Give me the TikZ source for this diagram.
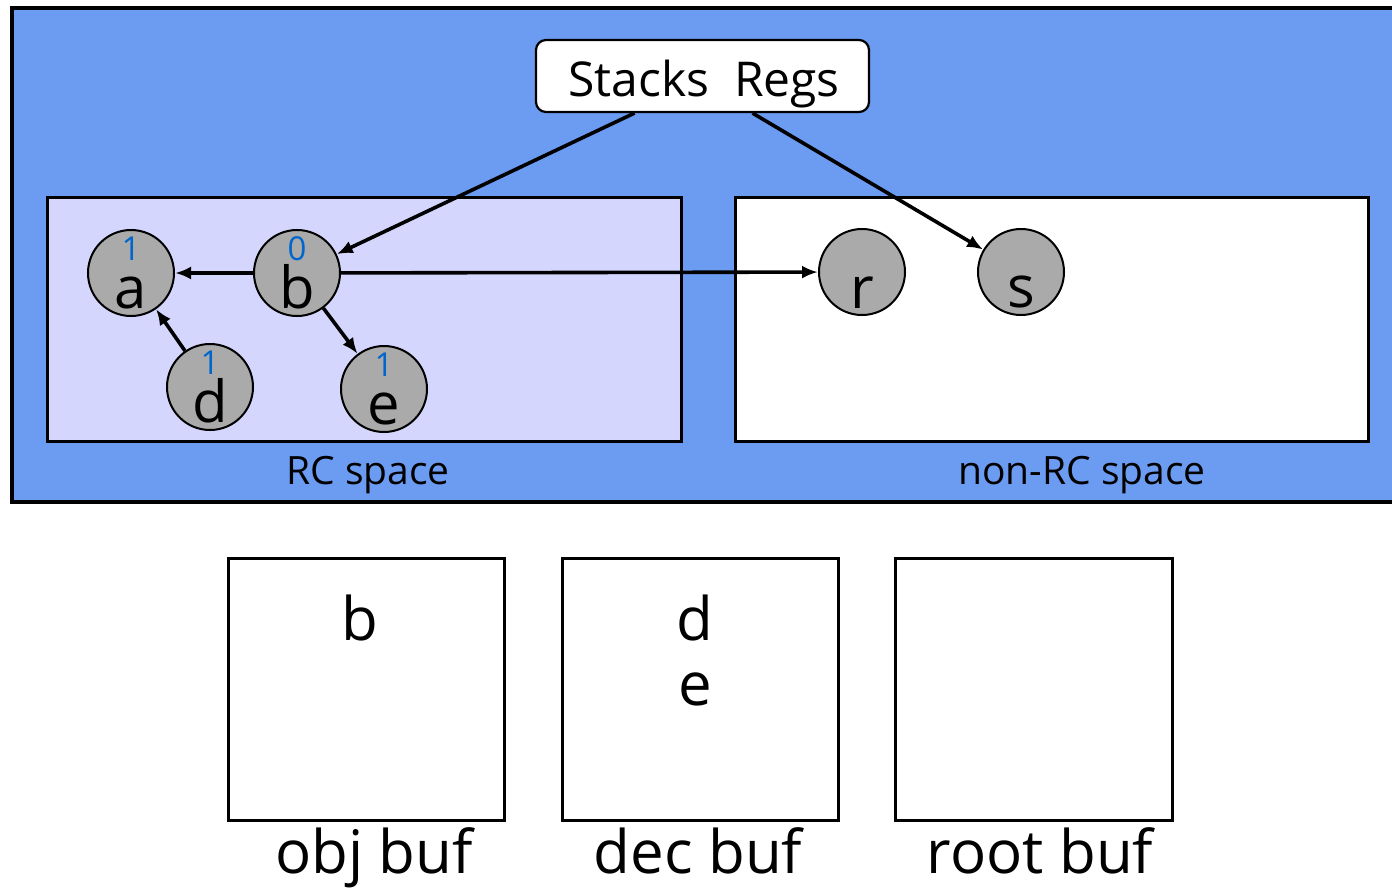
\documentclass[tikz,border=0pt]{standalone}
\usepackage{fontspec}
\setmainfont{Open Sans}
\usetikzlibrary{arrows.meta}
\definecolor{bgblue}{RGB}{108,155,242}
\definecolor{rcfill}{RGB}{213,214,253}
\definecolor{objgray}{RGB}{170,170,170}
\definecolor{numblue}{RGB}{0,102,204}
\newcommand\objtext[2]{\vbox to 72pt{%
  \hbox to 0pt{\hss\fontsize{33}{36}\selectfont\color{numblue}#1\hss}%
  \vss
  \hbox to 0pt{\hss\fontsize{58}{60}\selectfont #2\hss}}}
\tikzset{
  region/.style={draw=black, line width=3pt},
  obj/.style={circle, draw=black, line width=2pt, fill=objgray, minimum size=86pt, inner sep=0pt},
  caption/.style={font=\fontsize{39}{42}\selectfont, inner sep=0pt, anchor=base},
  bufcap/.style={font=\fontsize{60}{62}\selectfont, inner sep=0pt, anchor=base},
  ptr/.style={line width=3.6pt, -{Latex[length=16pt,width=13pt]}},
  buf/.style={draw=black, line width=3pt, fill=white},
}
\begin{document}
\begin{tikzpicture}[x=1pt,y=-1pt]
\useasboundingbox (0,0) rectangle (1392,888);
\begin{scope}
  \clip (0,0) rectangle (1392,888);
  \draw[fill=bgblue, line width=3.5pt] (12,8) rectangle (1410,502);
\end{scope}
% regions
\draw[region, fill=rcfill] (47,197) rectangle (681,441);
\draw[region, fill=white] (735,197) rectangle (1368,441);
\node[caption] (rccap) at (368,484) {RC space};
\node[caption] (nrccap) at (1082,484) {non-RC space};
% stacks regs
\node[draw=black, line width=2.2pt, fill=white, rounded corners=10pt, minimum width=333pt, minimum height=72pt] (sr) at (702.5,76) {};
\node[font=\fontsize{48}{50}\selectfont, inner sep=0pt, anchor=base] (srtext) at (704,97) {Stacks\ \ Regs};
% objects
\node[obj] (a) at (131,273) {\objtext{1}{a}};
\node[obj] (b) at (297,273) {\objtext{0}{b}};
\node[obj] (d) at (210,387) {\objtext{1}{d}};
\node[obj] (e) at (384,389) {\objtext{1}{e}};
\node[obj] (r) at (862,272) {\objtext{}{r}};
\node[obj] (s) at (1021,272) {\objtext{}{s}};
% pointers
\coordinate (sr1) at ([xshift=-68pt]sr.south);
\coordinate (sr2) at ([xshift=50pt]sr.south);
\draw[ptr] (sr1) -- (b);
\draw[ptr] (sr2) -- (s);
\draw[ptr] (b) -- (a);
\draw[ptr] (b) -- (r);
\draw[ptr] (d) -- (a);
\draw[ptr] (b) -- (e);
% buffers
\draw[buf] (228,558) rectangle (504,820);
\draw[buf] (562,558) rectangle (838,820);
\draw[buf] (895,558) rectangle (1172,820);
\node[bufcap] (objb) at (360,640) {b};
\node[bufcap] (decd) at (695,640) {d};
\node[bufcap] (dece) at (695,705) {e};
\node[bufcap] (objcap) at (374,873) {obj buf};
\node[bufcap] (deccap) at (698,873) {dec buf};
\node[bufcap] (rootcap) at (1040,873) {root buf};
\end{tikzpicture}
\end{document}
